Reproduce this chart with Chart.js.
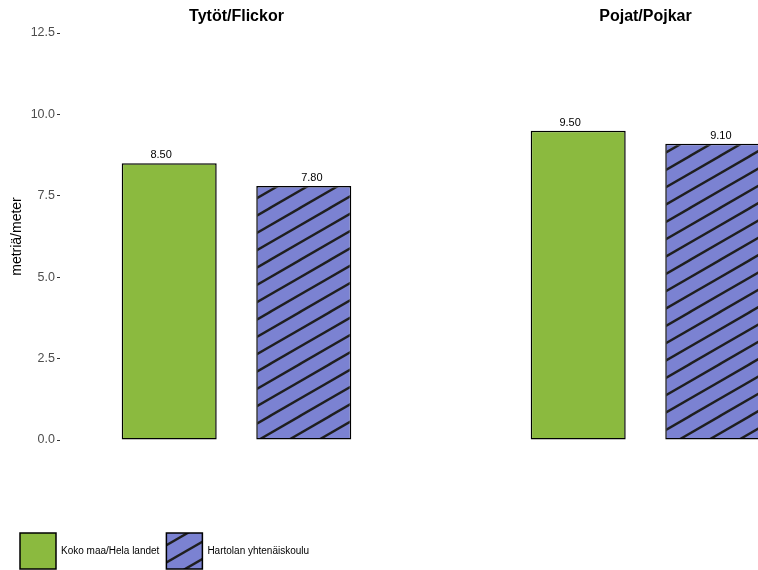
<!DOCTYPE html>
<html>
<head>
<meta charset="utf-8">
<script src="https://cdn.jsdelivr.net/npm/chart.js@4/dist/chart.umd.min.js"></script>
<style>
  body { margin: 0; background: #fff; overflow: hidden; }
  #wrap { width: 758px; height: 570px; }
</style>
</head>
<body>
<div id="wrap"><canvas id="chart"></canvas></div>
<script>
const facets = ["Tytöt/Flickor", "Pojat/Pojkar"];
const seriesNames = ["Koko maa/Hela landet", "Hartolan yhtenäiskoulu"];
const kokoMaa = [8.5, 9.5];
const hartola = [7.8, 9.1];
const yTicks = [0, 2.5, 5, 7.5, 10, 12.5];

const font = "'Liberation Sans', Arial, sans-serif";

// hatch pattern for the school series
function makeHatch(bg) {
  const c = document.createElement("canvas");
  const w = 30, h = 52;
  c.width = w; c.height = h;
  const g = c.getContext("2d");
  g.fillStyle = bg;
  g.fillRect(0, 0, w, h);
  const d = h / 3;
  const s = d / w;
  g.strokeStyle = "#1f1f1f";
  g.lineWidth = 2.4;
  for (let j = -1; j <= 5; j++) {
    const cy = j * d;
    g.beginPath();
    g.moveTo(-2, cy + 2 * s);
    g.lineTo(w + 2, cy - (w + 2) * s);
    g.stroke();
  }
  return g.createPattern(c, "repeat");
}

const hatch = makeHatch("#7B82D2");

// facet titles on top of each group
const facetTitles = {
  id: "facetTitles",
  afterDraw(chart) {
    const ctx = chart.ctx;
    const x = chart.scales.x;
    ctx.save();
    ctx.fillStyle = "#000";
    ctx.font = "bold 16px " + font;
    ctx.textAlign = "center";
    ctx.textBaseline = "alphabetic";
    facets.forEach((f, i) => {
      ctx.fillText(f, x.getPixelForValue(i), 21);
    });
    ctx.restore();
  }
};

// value labels above the bars
const valueLabels = {
  id: "valueLabels",
  afterDatasetsDraw(chart) {
    const ctx = chart.ctx;
    const x = chart.scales.x;
    ctx.save();
    ctx.fillStyle = "#000";
    ctx.font = "11px " + font;
    ctx.textAlign = "center";
    ctx.textBaseline = "alphabetic";
    chart.data.datasets.forEach((ds, di) => {
      const meta = chart.getDatasetMeta(di);
      meta.data.forEach((bar, i) => {
        const center = x.getPixelForValue(ds.data[i].x);
        const lx = center + (bar.x - center) * 1.12;
        ctx.fillText(ds.data[i].y.toFixed(2), lx, bar.y - 5);
      });
    });
    ctx.restore();
  }
};

const toPoints = arr => arr.map((v, i) => ({ x: i, y: v }));

const ctx = document.getElementById("chart").getContext("2d");
const chart = new Chart(ctx, {
  type: "bar",
  data: {
    datasets: [
      {
        label: seriesNames[0],
        data: toPoints(kokoMaa),
        backgroundColor: "#8BBA3F",
        borderColor: "#000",
        borderWidth: 1.5,
        borderSkipped: false
      },
      {
        label: seriesNames[1],
        data: toPoints(hartola),
        backgroundColor: hatch,
        borderColor: "#000",
        borderWidth: 1.5,
        borderSkipped: false
      }
    ]
  },
  options: {
    responsive: true,
    maintainAspectRatio: false,
    animation: false,
    categoryPercentage: 0.658,
    barPercentage: 0.706,
    layout: { padding: { top: 33, right: 0, bottom: -9, left: 13 } },
    plugins: {
      legend: {
        position: "bottom",
        align: "start",
        labels: {
          boxWidth: 36,
          boxHeight: 36,
          padding: 7,
          color: "#000",
          font: { family: font, size: 10 }
        }
      },
      tooltip: { enabled: false }
    },
    scales: {
      x: {
        type: "linear",
        offset: false,
        min: -0.4315,
        max: 1.2751,
        afterBuildTicks: s => { s.ticks = facets.map((f, i) => ({ value: i })); },
        afterFit: s => { s.height = 86; },
        ticks: { display: false },
        grid: { display: false, offset: false },
        border: { display: false }
      },
      y: {
        min: 0,
        max: 12.5,
        afterBuildTicks: s => { s.ticks = yTicks.map(v => ({ value: v })); },
        afterFit: s => { s.width = 47; },
        ticks: {
          padding: 2,
          color: "#4d4d4d",
          font: { family: font, size: 12.5 },
          callback: v => v.toFixed(1)
        },
        grid: {
          drawOnChartArea: false,
          drawTicks: true,
          tickLength: 3,
          tickColor: "#333"
        },
        border: { display: false },
        title: {
          display: true,
          text: "metriä/meter",
          color: "#000",
          font: { family: font, size: 14 },
          padding: { top: -4, bottom: 0 }
        }
      }
    }
  },
  plugins: [facetTitles, valueLabels]
});
</script>
</body>
</html>
